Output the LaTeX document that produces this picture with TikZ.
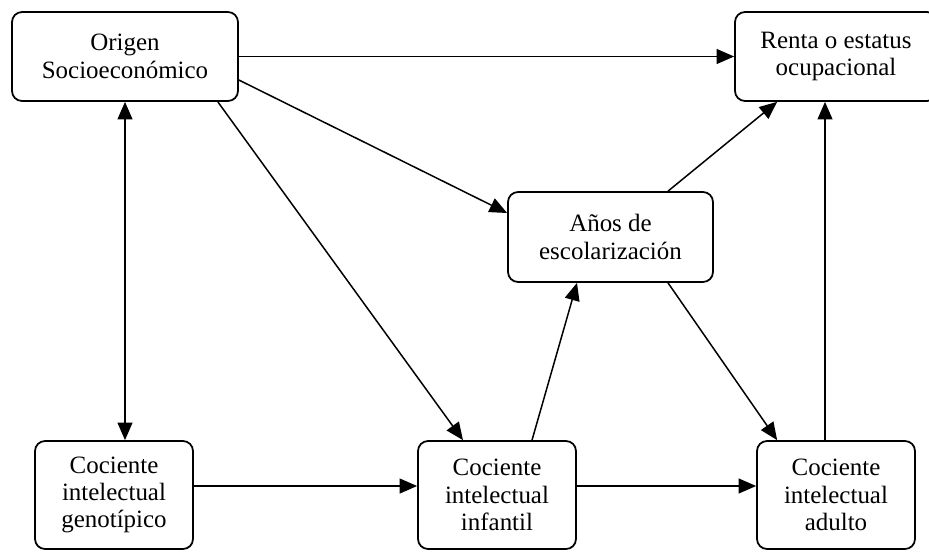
\documentclass[tikz,border=0pt]{standalone}
\usepackage{fontspec}
\setmainfont{Liberation Serif}
\usepackage{tikz}
\usetikzlibrary{arrows.meta, positioning, calc}

\begin{document}
\begin{tikzpicture}[x=0.02cm, y=-0.02cm, >={Triangle[length=10pt, width=8.5pt]},
    box/.style={draw, line width=1pt, rounded corners=0.2cm, align=center, inner sep=0pt,
        font=\fontsize{14.2}{15.6}\selectfont},
    cociente/.style={box, minimum width=3.16cm, minimum height=2.16cm},
    flecha/.style={->, line width=0.85pt}]
    \useasboundingbox (0,0) rectangle (929,552);
    \clip (0,0) rectangle (929,552);
    \node[box, minimum width=4.52cm, minimum height=1.78cm] (origen) at (125,56.5) {Origen\\Socioeconómico};
    \node[box, minimum width=4.04cm, minimum height=1.78cm] (renta) at (836,56.5) {Renta o estatus\\ocupacional};
    \node[box, minimum width=4.1cm, minimum height=1.8cm] (anos) at (610.5,237) {Años de\\escolarización};
    \node[cociente] (genotipico) at (114,495) {Cociente\\intelectual\\genotípico};
    \node[cociente] (infantil) at (497,495) {Cociente\\intelectual\\infantil};
    \node[cociente] (adulto) at (836,495) {Cociente\\intelectual\\adulto};
    \draw[flecha] (origen.east) -- (renta.west);
    \draw[flecha] ($(origen.east)+(0,23.5)$) -- ($(anos.west)+(0,-24)$);
    \draw[flecha] ($(origen.south east)+(-21,0)$) -- ($(infantil.north)+(-34,0)$);
    \draw[<->, line width=0.85pt] (origen.south) -- (origen.south |- genotipico.north);
    \draw[flecha] ($(genotipico.east)+(0,-9)$) -- ($(infantil.west)+(0,-9)$);
    \draw[flecha] ($(infantil.north)+(35,0)$) -- ($(anos.south)+(-33.5,0)$);
    \draw[flecha] ($(infantil.east)+(0,-9)$) -- ($(adulto.west)+(0,-9)$);
    \draw[flecha] ($(anos.north)+(57.5,0)$) -- ($(renta.south west)+(43,0)$);
    \draw[flecha] ($(anos.south)+(57.5,0)$) -- ($(adulto.north west)+(21,0)$);
    \draw[flecha] ($(adulto.north)+(-11,0)$) -- ($(renta.south)+(-11,0)$);
\end{tikzpicture}
\end{document}
